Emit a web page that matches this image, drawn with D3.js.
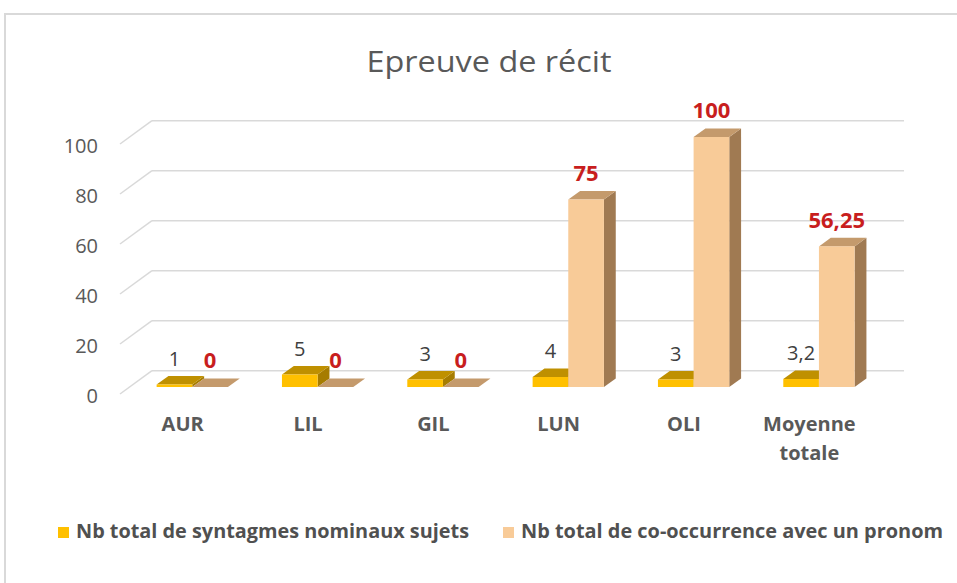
<!DOCTYPE html>
<html lang="fr">
<head>
<meta charset="utf-8">
<title>Epreuve de récit</title>
<script src="https://cdn.jsdelivr.net/npm/d3@7"></script>
<style>
    body { margin: 0; background: #fff; }
    svg { display: block; font-family: "Open Sans", "Noto Sans", sans-serif; }
</style>
</head>
<body>
<svg id="chart"></svg>
<script>
    // chart values
    const categories = ["AUR", "LIL", "GIL", "LUN", "OLI", "Moyenne totale"];
    const nbSyntagmes = [1, 5, 3, 4, 3, 3.2];
    const nbCooccurrence = [0, 0, 0, 75, 100, 56.25];
    const yTicks = [0, 20, 40, 60, 80, 100];
    const seriesNames = ["Nb total de syntagmes nominaux sujets", "Nb total de co-occurrence avec un pronom"];

    const width = 957, height = 583;
    const svg = d3.select("#chart").attr("width", width).attr("height", height);

    // frame
    svg.append("rect")
        .attr("x", 5).attr("y", 14)
        .attr("width", 1000).attr("height", 700)
        .attr("fill", "#fff")
        .attr("stroke", "#d9d9d9").attr("stroke-width", 2);

    // front plane scales, depth goes back along (DX, DY)
    const x = d3.scaleBand().domain(categories).range([120, 872]);
    const y = d3.scaleLinear().domain([0, 100]).range([394, 144]);
    const DX = 32, DY = -23.3;
    const tFront = 0.3, tBack = 0.67;
    const groupWidth = 71.3;
    const xs = d3.scaleBand().domain([0, 1]).range([0, groupWidth]);

    const fmt = v => String(v).replace(".", ",");

    // title
    svg.append("text")
        .attr("x", 489).attr("y", 72)
        .attr("text-anchor", "middle")
        .attr("font-size", 30)
        .attr("fill", "#595959")
        .attr("textLength", 245).attr("lengthAdjust", "spacingAndGlyphs")
        .text("Epreuve de récit");

    // back wall gridlines + side diagonals
    const grid = svg.append("g").attr("stroke", "#d9d9d9").attr("stroke-width", 1.5).attr("fill", "none");
    grid.selectAll("line.h")
        .data(yTicks)
        .join("line")
        .attr("class", "h")
        .attr("x1", x.range()[0] + DX).attr("x2", x.range()[1] + DX)
        .attr("y1", d => y(d) + DY).attr("y2", d => y(d) + DY);
    grid.selectAll("line.d")
        .data(yTicks)
        .join("line")
        .attr("class", "d")
        .attr("x1", x.range()[0]).attr("x2", x.range()[0] + DX)
        .attr("y1", d => y(d)).attr("y2", d => y(d) + DY);

    // y axis labels
    const yAxis = svg.append("g")
        .attr("transform", `translate(${x.range()[0]},2)`)
        .call(d3.axisLeft(y).tickValues(yTicks).tickSize(0).tickPadding(22));
    yAxis.select(".domain").remove();
    yAxis.selectAll("text")
        .attr("font-family", "Open Sans, sans-serif")
        .attr("font-size", 20)
        .attr("fill", "#595959");

    // x axis labels
    const xAxis = svg.append("g")
        .attr("transform", `translate(0,${y(0)})`)
        .call(d3.axisBottom(x).tickSize(0).tickPadding(23));
    xAxis.select(".domain").remove();
    xAxis.selectAll("text")
        .attr("font-family", "Open Sans, sans-serif")
        .attr("font-size", 20)
        .attr("font-weight", "bold")
        .attr("fill", "#595959")
        .each(function (d) {
            const words = d.split(" ");
            if (words.length < 2) return;
            const t = d3.select(this).text(null);
            words.forEach((w, i) => {
                t.append("tspan").attr("x", 0).attr("dy", i === 0 ? "0.71em" : "1.45em").text(w);
            });
            t.attr("dy", null);
        });

    // 3d bars
    const series = [
        {values: nbSyntagmes, front: "#FFC000", top: "#BF9000", side: "#A67C00", label: "#404040", bold: false},
        {values: nbCooccurrence, front: "#F8CB98", top: "#C49A6C", side: "#A07A52", label: "#C81E1E", bold: true}
    ];
    const depthX = DX * (tBack - tFront), depthY = DY * (tBack - tFront);

    const bars = [];
    categories.forEach((c, ci) => {
        series.forEach((s, si) => {
            const x0 = x(c) + (x.bandwidth() - groupWidth) / 2 + xs(si) + DX * tFront;
            const w = xs.bandwidth();
            const yb = y(0) + DY * tFront;
            const yt = y(s.values[ci]) + DY * tFront;
            bars.push({c, s, v: s.values[ci], x0, w, yb, yt});
        });
    });

    const barG = svg.append("g");
    bars.forEach(b => {
        const g = barG.append("g");
        // side face
        g.append("path")
            .attr("d", `M${b.x0 + b.w},${b.yb} L${b.x0 + b.w + depthX},${b.yb + depthY} L${b.x0 + b.w + depthX},${b.yt + depthY} L${b.x0 + b.w},${b.yt} Z`)
            .attr("fill", b.s.side);
        // top face
        g.append("path")
            .attr("d", `M${b.x0},${b.yt} L${b.x0 + depthX},${b.yt + depthY} L${b.x0 + b.w + depthX},${b.yt + depthY} L${b.x0 + b.w},${b.yt} Z`)
            .attr("fill", b.s.top);
        // front face
        g.append("rect")
            .attr("x", b.x0).attr("y", b.yt)
            .attr("width", b.w).attr("height", b.yb - b.yt)
            .attr("fill", b.s.front);
    });

    // value labels
    svg.append("g")
        .selectAll("text")
        .data(bars)
        .join("text")
        .attr("x", d => d.x0 + d.w / 2)
        .attr("y", d => d.yt + depthY - 10)
        .attr("text-anchor", "middle")
        .attr("font-size", d => d.s.bold ? 22 : 20)
        .attr("font-weight", d => d.s.bold ? "bold" : "normal")
        .attr("fill", d => d.s.label)
        .text(d => fmt(d.v));

    // legend
    const legendX = [58, 503];
    const legendW = [393, 422];
    const legend = svg.append("g")
        .selectAll("g")
        .data(series)
        .join("g")
        .attr("transform", (d, i) => `translate(${legendX[i]},527)`);
    legend.append("rect")
        .attr("width", 11).attr("height", 11)
        .attr("fill", d => d.front);
    legend.append("text")
        .attr("x", 18).attr("y", 11)
        .attr("font-size", 19)
        .attr("font-weight", "bold")
        .attr("fill", "#505050")
        .attr("textLength", (d, i) => legendW[i])
        .attr("lengthAdjust", "spacingAndGlyphs")
        .text((d, i) => seriesNames[i]);
</script>
</body>
</html>
